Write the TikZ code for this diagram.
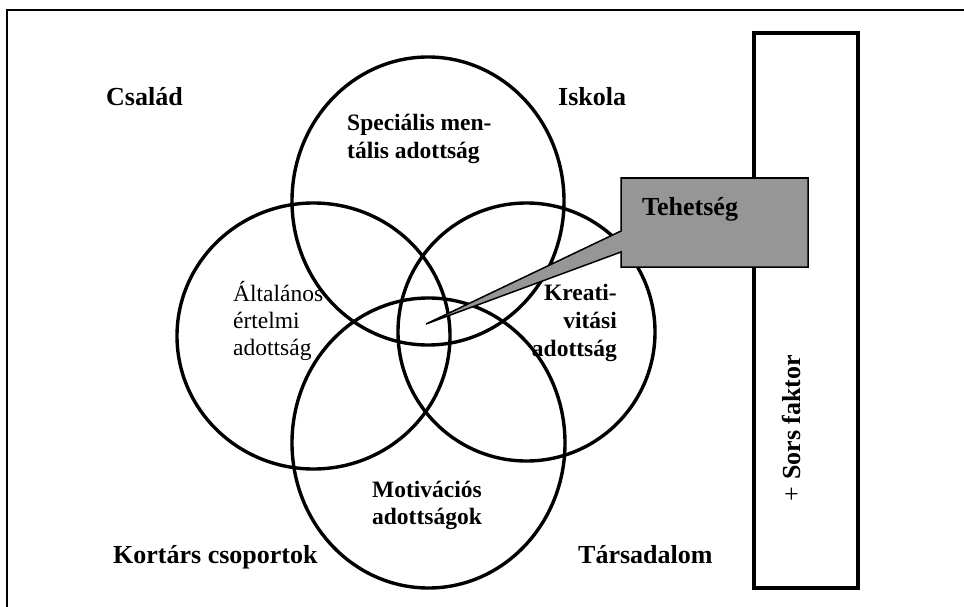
\documentclass[tikz,border=0pt]{standalone}
\usepackage{fontspec}
\setmainfont{Liberation Serif}
\definecolor{calloutgray}{RGB}{150,150,150}
\begin{document}
\begin{tikzpicture}[x=1pt,y=-1pt,
  ring/.style={draw, line width=3.4pt},
  outerlbl/.style={font=\fontsize{26}{30}\selectfont\bfseries, inner sep=0pt},
  innerlbl/.style={font=\fontsize{23.5}{28}\selectfont\bfseries, inner sep=0pt},
  plainlbl/.style={font=\fontsize{23.5}{28}\selectfont, inner sep=0pt}]
\path[use as bounding box] (0,0) rectangle (964,607);
\fill[white] (0,0) rectangle (964,607);
% outer frame (only top and left edges fall inside the picture)
\draw[line width=1.7pt] (964,10) -- (7,10) -- (7,607);
% four overlapping circles
\draw[ring] (428,201) ellipse [x radius=136, y radius=144];
\draw[ring] (313.5,336) ellipse [x radius=136.5, y radius=133];
\draw[ring] (526.5,332) ellipse [x radius=128.5, y radius=129];
\draw[ring] (428.5,443) ellipse [x radius=136.5, y radius=145];
% Sors faktor box
\draw[line width=3.8pt] (754,33) rectangle (858,588);
\node[outerlbl, rotate=90, anchor=base] (sors) at (800,428) {\mdseries+ \bfseries Sors faktor};
% callout
\draw[line width=1.5pt, fill=calloutgray] (621,178) -- (808,178) -- (808,267) -- (621,267)
  -- (621,252) -- (426,324) -- (621,231) -- cycle;
\node[outerlbl, anchor=base west] (teh) at (642,215) {Tehetség};
% corner labels
\node[outerlbl, anchor=base west] (csal) at (106,106) {Család};
\node[outerlbl, anchor=base west] (isk) at (558,106) {Iskola};
\node[outerlbl, anchor=base west] (kort) at (113,563) {Kortárs csoportok};
\node[outerlbl, anchor=base west] (tars) at (578,563) {Társadalom};
% circle labels
\node[innerlbl, anchor=base west] (spec1) at (347,131) {Speciális men-};
\node[innerlbl, anchor=base west] (spec2) at (347,158) {tális adottság};
\node[plainlbl, anchor=base west] (alt1) at (233,301) {Általános};
\node[plainlbl, anchor=base west] (alt2) at (233,328) {értelmi};
\node[plainlbl, anchor=base west] (alt3) at (233,355) {adottság};
\node[innerlbl, anchor=base east] (kre1) at (617,300) {Kreati-};
\node[innerlbl, anchor=base east] (kre2) at (617,328) {vitási};
\node[innerlbl, anchor=base east] (kre3) at (617,356) {adottság};
\node[innerlbl, anchor=base] (mot1) at (427,497) {Motivációs};
\node[innerlbl, anchor=base] (mot2) at (427,524) {adottságok};
\end{tikzpicture}
\end{document}
